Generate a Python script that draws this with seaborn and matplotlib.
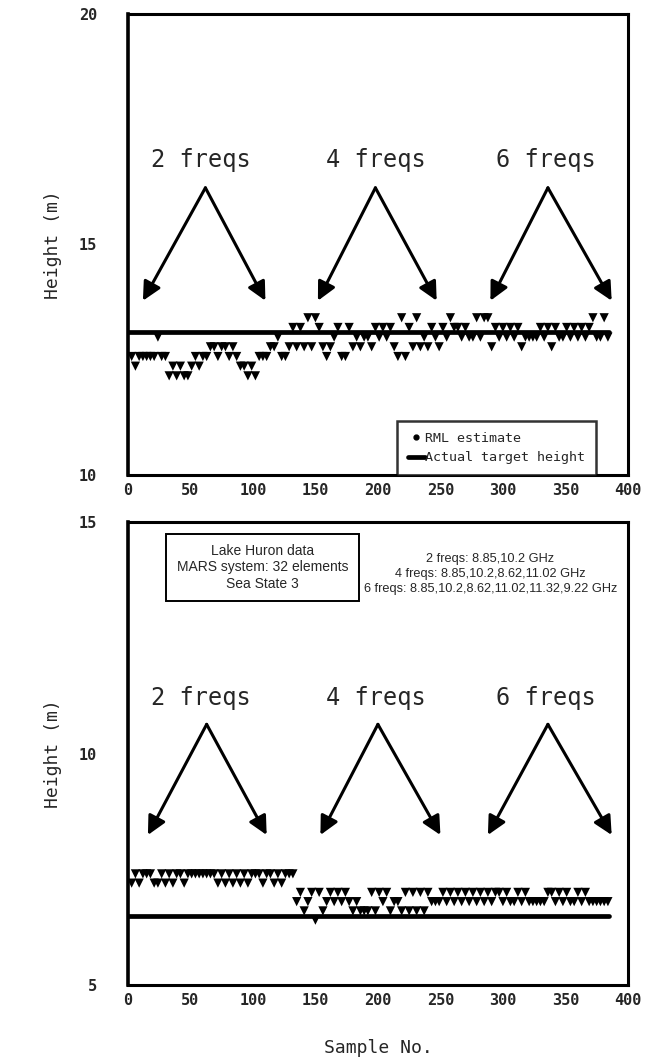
import numpy as np
import pandas as pd
import matplotlib
matplotlib.use("Agg")
import matplotlib.pyplot as plt
from matplotlib.lines import Line2D
from matplotlib.ticker import MultipleLocator
from matplotlib import font_manager
import seaborn as sns

# ---------------------------------------------------------------- data
sample_no = np.arange(3, 385, 3)          # sample index of each estimate

# RML height estimates, upper panel (m)
est_upper = [
    12.57, 12.36, 12.57, 12.57, 12.57, 12.57, 12.57, 12.99, 12.57, 12.57, 12.15, 12.36, 12.15, 12.36, 12.15, 12.15,
    12.36, 12.57, 12.36, 12.57, 12.57, 12.78, 12.78, 12.57, 12.78, 12.78, 12.57, 12.78, 12.57, 12.36, 12.36, 12.15,
    12.36, 12.15, 12.57, 12.57, 12.57, 12.78, 12.78, 12.99, 12.57, 12.57, 12.78, 13.20, 12.78, 13.20, 12.78, 13.41,
    12.78, 13.41, 13.20, 12.78, 12.57, 12.78, 12.99, 13.20, 12.57, 12.57, 13.20, 12.78, 12.99, 12.78, 12.99, 12.99,
    12.78, 13.20, 12.99, 13.20, 12.99, 13.20, 12.78, 12.57, 13.41, 12.57, 13.20, 12.78, 13.41, 12.78, 12.99, 12.78,
    13.20, 12.99, 12.78, 13.20, 12.99, 13.41, 13.20, 13.20, 12.99, 13.20, 12.99, 12.99, 13.41, 12.99, 13.41, 13.41,
    12.78, 13.20, 12.99, 13.20, 12.99, 13.20, 12.99, 13.20, 12.78, 12.99, 12.99, 12.99, 12.99, 13.20, 12.99, 13.20,
    12.78, 13.20, 12.99, 12.99, 13.20, 12.99, 13.20, 12.99, 13.20, 12.99, 13.20, 13.41, 12.99, 12.99, 13.41, 12.99,
]

# RML height estimates, lower panel (m)
est_lower = [
    7.2, 7.4, 7.2, 7.4, 7.4, 7.4, 7.2, 7.2, 7.4, 7.2, 7.4, 7.2, 7.4, 7.4, 7.2, 7.4,
    7.4, 7.4, 7.4, 7.4, 7.4, 7.4, 7.4, 7.2, 7.4, 7.2, 7.4, 7.2, 7.4, 7.2, 7.4, 7.2,
    7.4, 7.4, 7.4, 7.2, 7.4, 7.4, 7.2, 7.4, 7.2, 7.4, 7.4, 7.4, 6.8, 7.0, 6.6, 6.8,
    7.0, 6.4, 7.0, 6.6, 6.8, 7.0, 6.8, 7.0, 6.8, 7.0, 6.8, 6.6, 6.8, 6.6, 6.6, 6.6,
    7.0, 6.6, 7.0, 6.8, 7.0, 6.6, 6.8, 6.8, 6.6, 7.0, 6.6, 7.0, 6.6, 7.0, 6.6, 7.0,
    6.8, 6.8, 6.8, 7.0, 6.8, 7.0, 6.8, 7.0, 6.8, 7.0, 6.8, 7.0, 6.8, 7.0, 6.8, 7.0,
    6.8, 7.0, 7.0, 6.8, 7.0, 6.8, 6.8, 7.0, 6.8, 7.0, 6.8, 6.8, 6.8, 6.8, 6.8, 7.0,
    7.0, 6.8, 7.0, 6.8, 7.0, 6.8, 6.8, 7.0, 6.8, 7.0, 6.8, 6.8, 6.8, 6.8, 6.8, 6.8,
]

# actual target height (m) and the sample span it is drawn over
target_upper = 13.1
target_lower = 6.5
target_span = [0, 385]

group_labels = ["2 freqs", "4 freqs", "6 freqs"]

site_text = "Lake Huron data\nMARS system: 32 elements\nSea State 3"
freq_text = ("2 freqs: 8.85,10.2 GHz\n"
             "4 freqs: 8.85,10.2,8.62,11.02 GHz\n"
             "6 freqs: 8.85,10.2,8.62,11.02,11.32,9.22 GHz")

# ---------------------------------------------------------------- style
sns.set_style("white")
MONO = "DejaVu Sans Mono"
plt.rcParams["font.family"] = [MONO]


def available(name):
    try:
        font_manager.findfont(font_manager.FontProperties(family=name),
                              fallback_to_default=False)
        return True
    except ValueError:
        return False


NARROW = "Liberation Sans Narrow" if available("Liberation Sans Narrow") else "Liberation Sans"

fig = plt.figure(figsize=(6.46, 10.63), dpi=100)
ax_up = fig.add_axes([0.198, 0.5532, 0.774, 0.4336])
ax_lo = fig.add_axes([0.198, 0.0734, 0.774, 0.4355])


def draw_panel(ax, est, target, ylim, label_y, apex_y, tip_y,
               apex_x, left_x, right_x, label_x):
    df = pd.DataFrame({"Sample No.": sample_no, "Height": est})
    sns.scatterplot(data=df, x="Sample No.", y="Height", ax=ax, marker="v",
                    s=44, color="black", edgecolor="none", linewidth=0,
                    legend=False, zorder=3)
    line_df = pd.DataFrame({"Sample No.": target_span,
                            "Height": [target, target]})
    sns.lineplot(data=line_df, x="Sample No.", y="Height", ax=ax,
                 color="black", lw=3.4, legend=False, zorder=4)

    ax.set_xlim(0, 400)
    ax.set_ylim(*ylim)
    ax.xaxis.set_major_locator(MultipleLocator(50))
    ax.xaxis.set_minor_locator(MultipleLocator(10))
    ax.yaxis.set_major_locator(MultipleLocator(5))
    ax.yaxis.set_minor_locator(MultipleLocator(1))
    ax.tick_params(which="both", direction="in", top=False, right=False,
                   color="black")
    ax.tick_params(which="major", length=7, width=1.4)
    ax.tick_params(which="minor", length=4, width=1.1)
    ax.tick_params(axis="y", which="major", pad=22)
    ax.tick_params(axis="x", which="major", pad=6)
    for lab in ax.get_xticklabels() + ax.get_yticklabels():
        lab.set_fontfamily(MONO)
        lab.set_fontweight("bold")
        lab.set_fontsize(11)
    for side, sp in ax.spines.items():
        sp.set_visible(True)
        sp.set_color("black")
        sp.set_linewidth(2.6 if side == "left" else 2.2)

    ax.set_ylabel("Height (m)", fontsize=13, family=MONO)
    ax.yaxis.set_label_coords(-0.132, 0.5)
    ax.set_xlabel("")

    for k in range(3):
        ax.text(label_x[k], label_y, group_labels[k], ha="center",
                va="center", fontsize=17, family=MONO)
        for tx in (left_x[k], right_x[k]):
            ax.annotate("", xy=(tx, tip_y), xytext=(apex_x[k], apex_y),
                        arrowprops=dict(arrowstyle="-|>", color="black",
                                        lw=2.2, mutation_scale=28,
                                        shrinkA=0, shrinkB=0))


draw_panel(ax_up, est_upper, target_upper, (10, 20), 16.84, 16.23, 13.78,
           [62, 198, 336], [12, 152, 290], [110, 247, 387], [58, 198, 334])
draw_panel(ax_lo, est_lower, target_lower, (5, 15), 11.2, 10.63, 8.24,
           [63, 200, 336], [16, 154, 288], [111, 250, 387], [58, 198, 334])

# legend of the upper panel
handles = [Line2D([], [], marker=".", color="black", linestyle="none",
                  markersize=7),
           Line2D([], [], color="black", lw=3.4)]
leg = ax_up.legend(handles, ["RML estimate", "Actual target height"],
                   loc="lower left", bbox_to_anchor=(0.538, 0.0),
                   frameon=True, fancybox=False, handlelength=1.3,
                   handletextpad=0.0, borderpad=0.8, borderaxespad=0.0,
                   labelspacing=0.5, prop={"family": MONO, "size": 9.6})
leg.get_frame().set_edgecolor("black")
leg.get_frame().set_linewidth(1.8)
leg.set_zorder(6)

# annotation boxes of the lower panel
ax_lo.text(107.6, 14.02, site_text, ha="center", va="center",
           multialignment="center", fontsize=10, family=[NARROW],
           linespacing=1.2, zorder=6,
           bbox=dict(boxstyle="square,pad=0.75", fc="white", ec="black",
                     lw=1.4))
ax_lo.text(290, 13.88, freq_text, ha="center", va="center",
           multialignment="center", fontsize=9.2, family=[NARROW],
           linespacing=1.3, zorder=6)

ax_lo.set_xlabel("Sample No.", fontsize=13, family=MONO, labelpad=22)

fig.savefig("out.png", dpi=100, facecolor="white")
